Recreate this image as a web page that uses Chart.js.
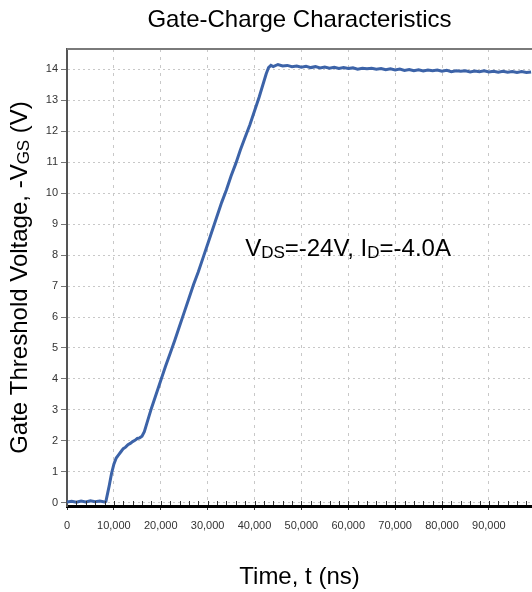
<!DOCTYPE html>
<html><head><meta charset="utf-8">
<script src="https://cdn.jsdelivr.net/npm/chart.js@4.4.0/dist/chart.umd.min.js"></script>
<style>html,body{margin:0;padding:0;background:#fff;overflow:hidden}#wrap{width:532px;height:592px;position:relative}canvas{display:block}</style>
</head><body><div id="wrap"><canvas id="c" width="532" height="592" style="width:532px;height:592px"></canvas></div>
<script>
// ---- data ----
const timeNs = [0,1000,2000,3000,4000,5000,6000,7000,8000,8300,9000,9500,10000,10500,11000,11500,12000,12500,13000,13500,14000,14500,15000,15500,16000,16500,17000,17500,18000,19000,20000,21000,22000,23000,24000,25000,26000,27000,28000,29000,30000,31000,32000,33000,34000,35000,36000,37000,38000,39000,40000,41000,42000,42500,43000,43500,44000,45000,46000,47000,48000,49000,50000,51000,52000,53000,54000,55000,56000,57000,58000,59000,60000,61000,62000,63000,64000,65000,66000,67000,68000,69000,70000,71000,72000,73000,74000,75000,76000,77000,78000,79000,80000,81000,82000,83000,84000,85000,86000,87000,88000,89000,90000,91000,92000,93000,94000,95000,96000,97000,98000,99000];
const gateVoltage = [0.03,0.05,0.02,0.06,0.03,0.07,0.04,0.06,0.03,0.05,0.55,0.95,1.25,1.45,1.55,1.65,1.75,1.8,1.88,1.92,1.98,2.02,2.08,2.1,2.15,2.3,2.55,2.8,3.05,3.5,3.95,4.4,4.82,5.25,5.7,6.15,6.6,7.05,7.45,7.9,8.35,8.8,9.25,9.7,10.1,10.55,10.95,11.4,11.8,12.2,12.65,13.1,13.6,13.85,14.05,14.12,14.08,14.15,14.1,14.12,14.08,14.1,14.06,14.09,14.05,14.08,14.04,14.07,14.03,14.06,14.02,14.05,14.02,14.04,14.0,14.03,14.01,14.03,14.0,14.02,13.98,14.01,13.97,14.0,13.96,13.99,13.95,13.98,13.94,13.97,13.95,13.97,13.93,13.96,13.92,13.95,13.93,13.95,13.91,13.94,13.92,13.95,13.91,13.93,13.9,13.93,13.9,13.92,13.89,13.92,13.89,13.91];
const xTickValues = [0,10000,20000,30000,40000,50000,60000,70000,80000,90000];
const yTickValues = [0,1,2,3,4,5,6,7,8,9,10,11,12,13,14];
const chartTitle = 'Gate-Charge Characteristics';
const xTitle = 'Time, t (ns)';
const yTitleParts = [['Gate Threshold Voltage, -V',0],['GS',1],[' (V)',0]];
const noteParts = [['V',0],['DS',1],['=-24V, I',0],['D',1],['=-4.0A',0]];
const noteAnchor = {x: 38000, y: 7.97};

const SANS = "'Liberation Sans', Arial, sans-serif";

function drawRich(ctx, parts, x, y, align){
  const main = '24px ' + SANS, sub = '17px ' + SANS;
  let total = 0;
  parts.forEach(p => { ctx.font = p[1] ? sub : main; total += ctx.measureText(p[0]).width; });
  let cx = align === 'center' ? x - total/2 : x;
  ctx.textBaseline = 'alphabetic'; ctx.textAlign = 'left'; ctx.fillStyle = '#000';
  parts.forEach(p => {
    ctx.font = p[1] ? sub : main;
    ctx.fillText(p[0], cx, y + (p[1] ? 2 : 0));
    cx += ctx.measureText(p[0]).width;
  });
}

const extras = {
  id: 'extras',
  afterDraw(chart){
    const ctx = chart.ctx, a = chart.chartArea, xs = chart.scales.x, ys = chart.scales.y;
    ctx.save();
    ctx.strokeStyle = '#7a7a7a'; ctx.lineWidth = 2;
    ctx.beginPath(); ctx.moveTo(a.left, a.top); ctx.lineTo(a.right, a.top); ctx.stroke();
    ctx.strokeStyle = '#333'; ctx.lineWidth = 1;
    for (let v = 2000; v < xs.max; v += 2000){
      const px = Math.round(xs.getPixelForValue(v)) + 0.5;
      ctx.beginPath(); ctx.moveTo(px, a.bottom - 1); ctx.lineTo(px, a.bottom - 5); ctx.stroke();
    }
    ctx.save();
    ctx.translate(27, (a.top + a.bottom)/2);
    ctx.rotate(-Math.PI/2);
    drawRich(ctx, yTitleParts, 0, 0, 'center');
    ctx.restore();
    drawRich(ctx, noteParts, xs.getPixelForValue(noteAnchor.x), ys.getPixelForValue(noteAnchor.y), 'left');
    ctx.restore();
  }
};

const fmt = v => String(v).replace(/\B(?=(\d{3})+(?!\d))/g, ',');

new Chart(document.getElementById('c'), {
  type: 'line',
  data: {
    datasets: [{
      data: timeNs.map((t, i) => ({x: t, y: gateVoltage[i]})),
      borderColor: '#3c63a8',
      borderWidth: 3,
      pointRadius: 0,
      tension: 0,
      fill: false
    }]
  },
  options: {
    responsive: false,
    animation: false,
    devicePixelRatio: 1,
    layout: {padding: 0},
    plugins: {
      legend: {display: false},
      tooltip: {enabled: false},
      title: {
        display: true, text: chartTitle, fullSize: false,
        color: '#000', font: {family: SANS, size: 24, weight: 'normal', lineHeight: 1.2},
        padding: {top: 6, bottom: 14.2}
      }
    },
    scales: {
      x: {
        type: 'linear', min: 0, max: 99200,
        afterBuildTicks: s => { s.ticks = xTickValues.map(v => ({value: v})); },
        afterFit: s => { s.height = 86; },
        ticks: {callback: v => fmt(v), font: {family: SANS, size: 11}, color: '#333', padding: 9, maxRotation: 0, autoSkip: false},
        grid: {color: '#c8c8c8', lineWidth: 1, tickLength: 4, tickColor: '#333'},
        border: {color: '#000', width: 3, dash: [3, 5]},
        title: {display: true, text: xTitle, color: '#000', font: {family: SANS, size: 24, lineHeight: 1.2}, padding: 0}
      },
      y: {
        type: 'linear', min: -0.1, max: 14.65,
        afterBuildTicks: s => { s.ticks = yTickValues.map(v => ({value: v})); },
        afterFit: s => { s.width = 67; },
        ticks: {font: {family: SANS, size: 11}, color: '#333', padding: 3},
        grid: {color: '#c8c8c8', lineWidth: 1, tickLength: 6, tickColor: '#777'},
        border: {color: '#555', width: 2, dash: [2, 3]}
      }
    }
  },
  plugins: [extras]
});
</script>
</body></html>
